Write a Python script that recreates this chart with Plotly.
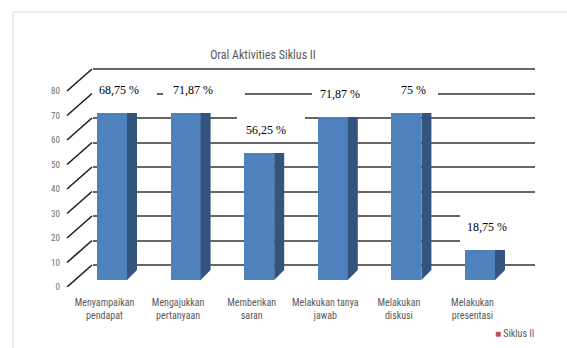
import plotly.graph_objects as go

# ---------------- data ----------------
categories = ["Menyampaikan<br>pendapat", "Mengajukkan<br>pertanyaan", "Memberikan<br>saran",
              "Melakukan tanya<br>jawab", "Melakukan<br>diskusi", "Melakukan<br>presentasi"]
values = [68.2, 68.2, 51.8, 66.5, 68.2, 12.2]          # bar heights as drawn
value_labels = ["68,75 %", "71,87 %", "56,25 %", "71,87 %", "75 %", "18,75 %"]
y_ticks = [0, 10, 20, 30, 40, 50, 60, 70, 80]
series_name = "Siklus II"
title_text = "Oral Aktivities Siklus II"

# ---------------- geometry (pixels) ----------------
W, H = 567, 348
PXU = 2.45          # pixels per value unit
PXC = 73.6          # pixels per category
FRONT0, BAR0, BACK0 = 287, 280, 265
BAR_X0 = 112        # front-face centre of first bar
LAB_X0 = 104.5      # category label centre of first category
BACK_L, BACK_R = 93, 535
FRONT_L = 67

def px(x):
    return x / W

def py(y):
    return 1 - y / H

d0 = (H - FRONT0) / H
span = FRONT0 / PXU

bar_w = 30 / PXC
side_dx = 10 / PXC
side_dy = 10 / PXU

FRONT_COL = "#4F81BD"
SIDE_COL = "#32547d"
GRID_COL = "#666666"
TXT_COL = "#595959"
TICK_COL = "#6f6f6f"
FONT = "Liberation Sans Narrow, Roboto Condensed, Roboto, Arial"

fig = go.Figure()

# bars (front faces)
xs = list(range(len(values)))
fig.add_trace(go.Bar(x=xs, y=values, width=bar_w, marker=dict(color=FRONT_COL, line=dict(width=0)),
                     xaxis="x2", yaxis="y2", showlegend=False, hoverinfo="skip", name=series_name))

# side faces derived from values
sx, sy = [], []
for i, v in zip(xs, values):
    r = i + bar_w / 2
    sx += [r, r + side_dx, r + side_dx, r, r, None]
    sy += [0, side_dy, v, v, 0, None]
fig.add_trace(go.Scatter(x=sx, y=sy, mode="lines", fill="toself", fillcolor=SIDE_COL,
                         line=dict(width=0, color=SIDE_COL), xaxis="x2", yaxis="y2",
                         showlegend=False, hoverinfo="skip"))

# invisible trace so the front tick-label axis is drawn
fig.add_trace(go.Scatter(x=[None], y=[None], mode="markers", xaxis="x", yaxis="y3",
                         showlegend=False, hoverinfo="skip"))

# value labels
for i, (v, t) in enumerate(zip(values, value_labels)):
    fig.add_annotation(x=i, y=v, xref="x2", yref="y2", text=t, showarrow=False,
                       xshift=7, yshift=23, yanchor="middle",
                       font=dict(family="Liberation Serif, Times New Roman, serif", size=12, color="#000000"))

# legend entry
fig.add_annotation(x=px(536), y=py(333), xref="paper", yref="paper", xanchor="right", yanchor="middle",
                   showarrow=False,
                   text="<span style='color:#C0504D'>■</span> " + series_name,
                   font=dict(family=FONT, size=10, color=TXT_COL))

shapes = []
# side-wall diagonals
for v in y_ticks:
    shapes.append(dict(type="line", xref="paper", yref="y", x0=px(FRONT_L), x1=px(BACK_L - 1),
                       y0=v - (FRONT0 - BACK0) / PXU, y1=v, layer="below",
                       line=dict(color="#1f1f1f", width=1.6)))
# white boxes behind the data labels
for (l, r, t, b) in [(93, 157, 78, 105), (163, 245, 78, 105), (237, 305, 110, 140),
                     (312, 438, 80, 106), (460, 540, 204, 248)]:
    shapes.append(dict(type="rect", xref="paper", yref="paper", x0=px(l), x1=px(r), y0=py(b), y1=py(t),
                       fillcolor="white", line=dict(width=0), layer="above"))
# chart border
shapes.append(dict(type="rect", xref="paper", yref="paper", x0=px(13), x1=1.1, y0=-0.1, y1=py(12),
                   line=dict(color="#d9d9d9", width=1), fillcolor="rgba(0,0,0,0)", layer="below"))

fig.update_layout(
    width=W, height=H, margin=dict(l=0, r=0, t=0, b=0, pad=0, autoexpand=False),
    paper_bgcolor="white", plot_bgcolor="rgba(0,0,0,0)",
    shapes=shapes,
    title=dict(text=title_text, x=px(263), y=py(55), xanchor="center", yanchor="middle",
               font=dict(family=FONT, size=12, color=TXT_COL)),
    showlegend=False,
    bargap=0,
    # back wall: gridlines + category labels
    xaxis=dict(domain=[px(BACK_L), px(BACK_R)],
               range=[(BACK_L - LAB_X0) / PXC, (BACK_R - LAB_X0) / PXC],
               tickvals=xs, ticktext=categories, showgrid=False, zeroline=False, showline=False,
               ticks="", ticklabelstandoff=8, automargin=False,
               tickfont=dict(family=FONT, size=10, color=TXT_COL), anchor="y", fixedrange=True),
    yaxis=dict(domain=[d0, 1], range=[-(FRONT0 - BACK0) / PXU, -(FRONT0 - BACK0) / PXU + span],
               tickvals=y_ticks, showticklabels=False, showgrid=True, gridcolor=GRID_COL, gridwidth=2,
               zeroline=False, showline=False, anchor="x", automargin=False),
    # bars plane
    xaxis2=dict(domain=[0, 1], range=[-BAR_X0 / PXC, (W - BAR_X0) / PXC], visible=False, anchor="y2"),
    yaxis2=dict(domain=[d0, 1], range=[-(FRONT0 - BAR0) / PXU, -(FRONT0 - BAR0) / PXU + span],
                visible=False, anchor="x2"),
    # front plane tick labels
    yaxis3=dict(overlaying="y", anchor="free", position=px(60), range=[0, span], tickvals=y_ticks,
                showgrid=False, zeroline=False, showline=False, ticks="", automargin=False,
                tickfont=dict(family=FONT, size=9, color=TICK_COL)),
)

fig.write_html("out.html")
